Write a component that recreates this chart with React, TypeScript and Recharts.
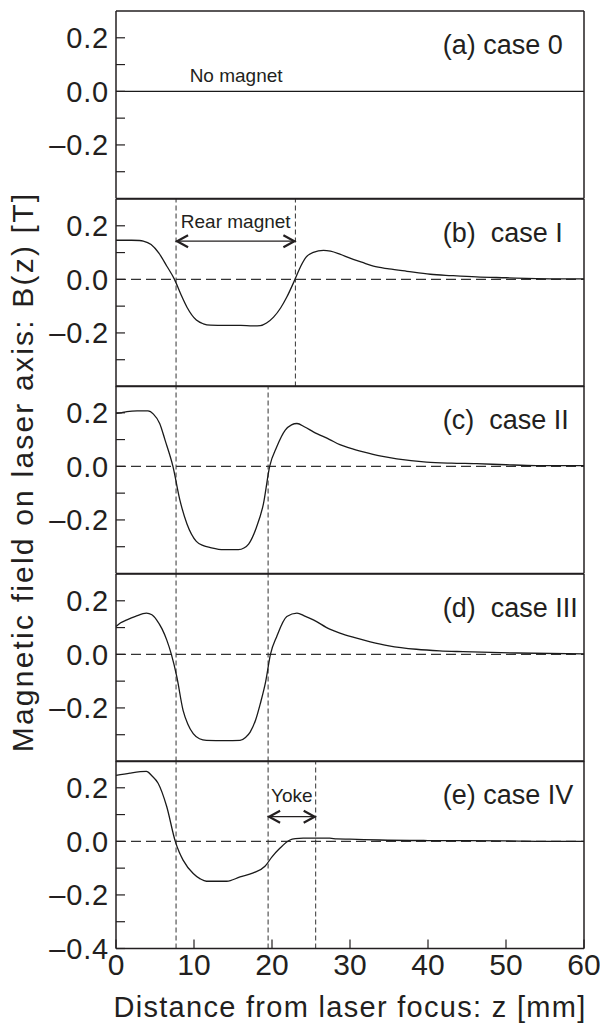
import React from "react";
import { LineChart, Line, XAxis, YAxis, ReferenceLine, ReferenceDot } from "recharts";

const zTicks = [0, 10, 20, 30, 40, 50, 60];
const bTicks = [-0.3, -0.2, -0.1, 0, 0.1, 0.2];
const bTicksLast = [-0.4, -0.3, -0.2, -0.1, 0, 0.1, 0.2];
const labeledB = [-0.4, -0.2, 0, 0.2];

const panelLabels = ["(a) case 0", "(b)  case I", "(c)  case II", "(d)  case III", "(e) case IV"];

// case 0: no magnet
const case0Z = [0, 60];
const case0B = [0, 0];

// case I
const case1Z = [0, 1, 2, 3, 3.5, 4.5, 5.5, 6.5, 7.5, 8.3, 9.1, 10.3, 11.2, 12.1, 14, 16, 17.5, 18.5, 19.3, 20.2, 21.1, 21.9, 22.95, 23.7, 24.4, 25.3, 26.6, 27.5, 28.7, 30, 31.5, 33, 35, 37.3, 40.3, 43, 46.2, 50, 53.9, 57, 60];
const case1B = [0.146, 0.146, 0.146, 0.145, 0.143, 0.13, 0.098, 0.05, 0.0, -0.055, -0.104, -0.152, -0.166, -0.171, -0.172, -0.172, -0.174, -0.173, -0.163, -0.141, -0.107, -0.066, 0.0, 0.05, 0.084, 0.101, 0.108, 0.105, 0.094, 0.079, 0.064, 0.049, 0.039, 0.03, 0.019, 0.014, 0.009, 0.006, 0.003, 0.002, 0.002];

// case II
const case2Z = [0, 0.7, 1.4, 2.7, 4.1, 4.8, 5.6, 6.3, 7.3, 8.2, 9.1, 10.3, 11.2, 12.1, 13.8, 15.7, 16.4, 17, 18, 18.9, 19.7, 20.6, 21.7, 22.5, 23.2, 24.2, 25.3, 27.4, 28.7, 30, 31.7, 34, 36, 39.8, 43, 46.2, 50, 53.9, 60];
const case2B = [0.198, 0.2, 0.204, 0.207, 0.207, 0.195, 0.16, 0.097, 0.0, -0.127, -0.215, -0.28, -0.296, -0.303, -0.311, -0.311, -0.305, -0.29, -0.228, -0.14, 0.0, 0.072, 0.135, 0.155, 0.16, 0.147, 0.129, 0.1, 0.081, 0.068, 0.054, 0.038, 0.028, 0.016, 0.012, 0.01, 0.006, 0.003, 0.003];

// case III
const case3Z = [0, 0.6, 1.4, 2.5, 3.9, 4.6, 5.2, 5.9, 6.5, 7.1, 7.8, 8.6, 9.2, 9.9, 10.7, 11.6, 14, 15.9, 16.6, 17.2, 17.9, 18.5, 19.2, 19.8, 20.6, 21.9, 23.2, 24.2, 25.3, 27.4, 28.7, 30.5, 32.6, 35, 38.5, 41.5, 44.5, 51.4, 60];
const case3B = [0.104, 0.118, 0.129, 0.142, 0.154, 0.148, 0.129, 0.095, 0.054, 0.0, -0.084, -0.209, -0.26, -0.296, -0.315, -0.321, -0.322, -0.321, -0.31, -0.29, -0.245, -0.184, -0.1, 0.0, 0.066, 0.141, 0.154, 0.143, 0.129, 0.094, 0.079, 0.063, 0.047, 0.032, 0.019, 0.013, 0.01, 0.005, 0.002];

// case IV
const case4Z = [0, 1.8, 3.9, 4.6, 5.4, 6.5, 7.6, 8.1, 8.6, 9.9, 10.8, 11.6, 14.2, 15.9, 17.6, 19.1, 20, 21, 22.3, 23, 24, 27.4, 28.3, 30, 33.8, 40, 50, 55, 60];
const case4B = [0.246, 0.255, 0.261, 0.245, 0.217, 0.13, 0.0, -0.04, -0.07, -0.12, -0.14, -0.149, -0.149, -0.133, -0.118, -0.093, -0.058, -0.026, 0.005, 0.01, 0.012, 0.012, 0.009, 0.008, 0.005, 0.003, 0.002, 0.0, 0.0];

const guides = [[], [7.7, 23], [7.7, 19.5], [7.7, 19.5], [7.7, 19.5, 25.6]];

const series = [
  [case0Z, case0B],
  [case1Z, case1B],
  [case2Z, case2B],
  [case3Z, case3B],
  [case4Z, case4B],
];

const FONT = "'Liberation Sans', Arial, Helvetica, sans-serif";
const INK = "#231f20";
const PH = 187.5;
const TOP0 = 11;

function fmtB(v: number) {
  if (!labeledB.some((t) => Math.abs(t - v) < 1e-6)) return "";
  if (Math.abs(v) < 1e-6) return "0.0";
  return v < 0 ? "\u2013" + Math.abs(v).toFixed(1) : v.toFixed(1);
}

function Arrow(p: any) {
  const { x1, y1, x2 } = p;
  const h = 12;
  const w = 6;
  return (
    <g stroke={INK} fill="none">
      <line x1={x1} y1={y1} x2={x2} y2={y1} strokeWidth={1.2} />
      <polyline points={`${x1 + h},${y1 - w} ${x1 + 1},${y1} ${x1 + h},${y1 + w}`} strokeWidth={2.2} />
      <polyline points={`${x2 - h},${y1 - w} ${x2 - 1},${y1} ${x2 - h},${y1 + w}`} strokeWidth={2.2} />
    </g>
  );
}

function textAt(label: string, size: number, anchor: string) {
  return (p: any) => (
    <text
      x={p.cx}
      y={p.cy}
      fontSize={size}
      fontFamily={FONT}
      fill={INK}
      textAnchor={anchor}
      style={{ whiteSpace: "pre" }}
    >
      {label}
    </text>
  );
}

function Panel({ idx }: { idx: number }) {
  const last = idx === 4;
  const [zs, bs] = series[idx];
  const data = zs.map((z, i) => ({ z, b: bs[i] }));
  const bottomH = last ? 60 : 10;
  const h = PH + 10 + bottomH;
  const yt = last ? bTicksLast : bTicks;
  return (
    <div style={{ position: "absolute", left: 0, top: TOP0 + idx * PH - 10, width: 600, height: h }}>
      <LineChart width={600} height={h} data={data} margin={{ top: 0, right: 0, bottom: 0, left: 0 }}>
        <XAxis
          xAxisId="t"
          orientation="top"
          type="number"
          dataKey="z"
          domain={[0, 60]}
          ticks={zTicks}
          interval={0}
          height={10}
          tickSize={-9}
          tick={false}
          axisLine={{ stroke: INK, strokeWidth: 1.5 }}
          tickLine={{ stroke: INK, strokeWidth: 1.2 }}
        />
        <XAxis
          xAxisId="b"
          orientation="bottom"
          type="number"
          dataKey="z"
          domain={[0, 60]}
          ticks={zTicks}
          interval={0}
          height={bottomH}
          tickSize={-9}
          tickMargin={14}
          tick={last ? { fontSize: 30, fill: INK, fontFamily: FONT } : false}
          axisLine={{ stroke: INK, strokeWidth: 1.5 }}
          tickLine={{ stroke: INK, strokeWidth: 1.2 }}
        />
        <YAxis
          yAxisId="l"
          type="number"
          domain={[-0.4, 0.3]}
          allowDataOverflow
          ticks={yt}
          interval={0}
          width={116}
          tickSize={-9}
          tickMargin={16}
          tickFormatter={fmtB}
          tick={{ fontSize: 29, fill: INK, fontFamily: FONT, letterSpacing: 0.8 }}
          axisLine={{ stroke: INK, strokeWidth: 1.5 }}
          tickLine={{ stroke: INK, strokeWidth: 1.2 }}
        />
        <YAxis
          yAxisId="r"
          orientation="right"
          type="number"
          domain={[-0.4, 0.3]}
          allowDataOverflow
          ticks={yt}
          interval={0}
          width={16}
          tickSize={-9}
          tick={false}
          axisLine={{ stroke: INK, strokeWidth: 1.5 }}
          tickLine={{ stroke: INK, strokeWidth: 1.2 }}
        />
        {idx > 0 && (
          <ReferenceLine xAxisId="b" yAxisId="l" y={0} stroke="#333" strokeWidth={1.1} strokeDasharray="10 5" />
        )}
        {guides[idx].map((g) => (
          <ReferenceLine key={g} xAxisId="b" yAxisId="l" x={g} stroke="#333" strokeWidth={1} strokeDasharray="5 3" />
        ))}
        {idx === 1 && (
          <ReferenceLine
            xAxisId="b"
            yAxisId="l"
            segment={[{ x: 7.7, y: 0.1425 }, { x: 23, y: 0.1425 }]}
            shape={Arrow}
          />
        )}
        {idx === 1 && (
          <ReferenceDot xAxisId="b" yAxisId="l" x={15.35} y={0.192} r={0} shape={textAt("Rear magnet", 19, "middle")} />
        )}
        {idx === 4 && (
          <ReferenceLine
            xAxisId="b"
            yAxisId="l"
            segment={[{ x: 19.5, y: 0.092 }, { x: 25.6, y: 0.092 }]}
            shape={Arrow}
          />
        )}
        {idx === 4 && (
          <ReferenceDot xAxisId="b" yAxisId="l" x={22.55} y={0.146} r={0} shape={textAt("Yoke", 19, "middle")} />
        )}
        {idx === 0 && (
          <ReferenceDot xAxisId="b" yAxisId="l" x={15.4} y={0.034} r={0} shape={textAt("No magnet", 19, "middle")} />
        )}
        <ReferenceDot
          xAxisId="b"
          yAxisId="l"
          x={41.9}
          y={0.139}
          r={0}
          shape={textAt(panelLabels[idx], 27, "start")}
        />
        <Line
          xAxisId="b"
          yAxisId="l"
          type="monotone"
          dataKey="b"
          stroke="#1a1a1a"
          strokeWidth={1.3}
          dot={false}
          isAnimationActive={false}
        />
      </LineChart>
    </div>
  );
}

export default function App() {
  return (
    <div style={{ position: "absolute", left: 0, top: 0, width: 600, height: 1028, background: "#fff" }}>
      {[0, 1, 2, 3, 4].map((i) => (
        <Panel key={i} idx={i} />
      ))}
      <svg width={600} height={1028} style={{ position: "absolute", left: 0, top: 0, pointerEvents: "none" }}>
        <text x={350} y={1017} fontSize={29} letterSpacing={1.3} fontFamily={FONT} fill={INK} textAnchor="middle">
          Distance from laser focus: z [mm]
        </text>
        <text
          transform="translate(33,472) rotate(-90)"
          fontSize={30}
          letterSpacing={2.2}
          fontFamily={FONT}
          fill={INK}
          textAnchor="middle"
        >
          Magnetic field on laser axis: B(z) [T]
        </text>
      </svg>
    </div>
  );
}
